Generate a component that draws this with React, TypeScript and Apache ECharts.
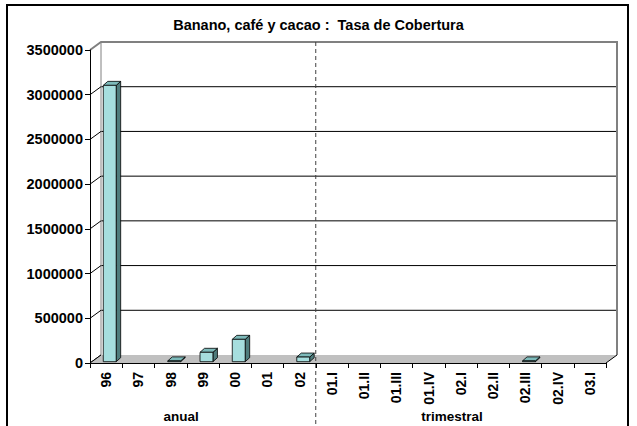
import React, { useEffect, useRef } from "react";
import * as echarts from "echarts";

const TITLE = "Banano, café y cacao :  Tasa de Cobertura";
const CATEGORIES = ["96", "97", "98", "99", "00", "01", "02", "01.I", "01.II", "01.III", "01.IV", "02.I", "02.II", "02.III", "02.IV", "03.I"];
const VALUES: (number | null)[] = [3090000, null, 9000, 105000, 250000, null, 52000, null, null, null, null, null, null, 9000, null, null];
const Y_TICKS = [0, 500000, 1000000, 1500000, 2000000, 2500000, 3000000, 3500000];
const GROUP_LABELS = ["anual", "trimestral"];
const SEPARATOR_AFTER = "02";

const FONT = "'Liberation Sans', Arial, sans-serif";
const DEPTH_X = 11;
const DEPTH_Y = -8;
const FRONT_DX = 3.6;
const FRONT_DY = -1.3;
const BAR_DX = 4.5;
const BAR_DY = -4;

export default function App() {
  const ref = useRef<HTMLDivElement>(null);
  useEffect(() => {
    if (!ref.current) return;
    const chart = echarts.init(ref.current, undefined, { renderer: "svg" });
    const yMin = Y_TICKS[0];
    const yMax = Y_TICKS[Y_TICKS.length - 1];
    const yStep = Y_TICKS[1] - Y_TICKS[0];
    const sepIndex = CATEGORIES.indexOf(SEPARATOR_AFTER);

    const option: any = {
      animation: false,
      backgroundColor: "#ffffff",
      title: {
        text: TITLE,
        left: "center",
        top: 12,
        textStyle: { fontFamily: FONT, fontSize: 14.5, fontWeight: "bold", color: "#000" },
      },
      grid: { left: 90, top: 50, width: 516, height: 313 },
      xAxis: {
        type: "category",
        data: CATEGORIES,
        boundaryGap: true,
        z: 5,
        axisLine: { show: true, lineStyle: { color: "#000", width: 1 } },
        axisTick: { show: true, interval: 0, length: 5, lineStyle: { color: "#000" } },
        axisLabel: {
          interval: 0,
          rotate: 90,
          margin: 9,
          fontFamily: FONT,
          fontSize: 14,
          fontWeight: "bold",
          color: "#000",
        },
        splitLine: { show: false },
      },
      yAxis: {
        type: "value",
        min: yMin,
        max: yMax,
        interval: yStep,
        z: 5,
        axisLine: { show: true, lineStyle: { color: "#000", width: 1 } },
        axisTick: { show: true, length: 5, lineStyle: { color: "#000" } },
        axisLabel: {
          margin: 7,
          fontFamily: FONT,
          fontSize: 14.5,
          fontWeight: "bold",
          color: "#000",
          formatter: (v: number) => String(v),
        },
        splitLine: { show: false },
      },
      graphic: [
        {
          type: "rect",
          shape: { x: 7, y: 5, width: 621, height: 440 },
          style: { fill: "none", stroke: "#000", lineWidth: 2 },
          z: 100,
        },
        {
          type: "text",
          x: 181,
          y: 416,
          style: {
            text: GROUP_LABELS[0],
            font: `bold 13.5px ${FONT}`,
            fill: "#000",
            textAlign: "center",
            textVerticalAlign: "middle",
          },
        },
        {
          type: "text",
          x: 452,
          y: 416,
          style: {
            text: GROUP_LABELS[1],
            font: `bold 13.5px ${FONT}`,
            fill: "#000",
            textAlign: "center",
            textVerticalAlign: "middle",
          },
        },
      ],
      series: [
        {
          type: "custom",
          z: 1,
          silent: true,
          data: [[0, 0]],
          renderItem: (params: any, api: any) => {
            const cs = params.coordSys;
            const x0 = cs.x;
            const x1 = cs.x + cs.width;
            const yb = api.coord([0, yMin])[1];
            const yt = api.coord([0, yMax])[1];
            const band = api.size([1, 0])[0];
            const children: any[] = [];
            Y_TICKS.forEach((t) => {
              if (t === yMin || t === yMax) return;
              const y = api.coord([0, t])[1];
              children.push({
                type: "line",
                shape: { x1: x0 + DEPTH_X, y1: y + DEPTH_Y, x2: x1 + DEPTH_X, y2: y + DEPTH_Y },
                style: { stroke: "#000", lineWidth: 1 },
              });
            });
            children.push({
              type: "polyline",
              shape: {
                points: [
                  [x0, yt],
                  [x0 + DEPTH_X, yt + DEPTH_Y],
                  [x1 + DEPTH_X, yt + DEPTH_Y],
                  [x1 + DEPTH_X, yb + DEPTH_Y],
                ],
              },
              style: { stroke: "#808080", lineWidth: 2, fill: "none" },
            });
            children.push({
              type: "line",
              shape: { x1: x0 + DEPTH_X, y1: yt + DEPTH_Y, x2: x0 + DEPTH_X, y2: yb + DEPTH_Y },
              style: { stroke: "#808080", lineWidth: 1 },
            });
            Y_TICKS.forEach((t) => {
              if (t === yMax) return;
              const y = api.coord([0, t])[1];
              children.push({
                type: "line",
                shape: { x1: x0, y1: y, x2: x0 + DEPTH_X, y2: y + DEPTH_Y },
                style: { stroke: "#000", lineWidth: 1 },
              });
            });
            children.push({
              type: "polygon",
              shape: {
                points: [
                  [x0, yb],
                  [x1, yb],
                  [x1 + DEPTH_X, yb + DEPTH_Y],
                  [x0 + DEPTH_X, yb + DEPTH_Y],
                ],
              },
              style: { fill: "#c0c0c0", stroke: "none" },
            });
            children.push({
              type: "line",
              shape: { x1: x1, y1: yb, x2: x1 + DEPTH_X, y2: yb + DEPTH_Y },
              style: { stroke: "#000", lineWidth: 1 },
            });
            children.push({
              type: "line",
              shape: { x1: x0, y1: yb, x2: x0 + DEPTH_X, y2: yb + DEPTH_Y },
              style: { stroke: "#000", lineWidth: 1 },
            });
            const sx = api.coord([sepIndex, 0])[0] + band / 2;
            children.push({
              type: "line",
              shape: { x1: sx, y1: yt + DEPTH_Y, x2: sx, y2: 440 },
              style: { stroke: "#404040", lineWidth: 1, lineDash: [4, 3] },
            });
            return { type: "group", children };
          },
        },
        {
          type: "custom",
          z: 3,
          silent: true,
          data: VALUES.map((v, i) => [i, v]),
          renderItem: (params: any, api: any) => {
            const v = api.value(1);
            if (v == null || isNaN(v)) return null;
            const idx = api.value(0);
            const base = api.coord([idx, 0]);
            const top = api.coord([idx, v]);
            const band = api.size([1, 0])[0];
            const w = band * 0.4;
            const x0 = base[0] - w / 2 + FRONT_DX;
            const x1 = x0 + w;
            const yb = base[1] + FRONT_DY;
            const yt = top[1] + FRONT_DY;
            const edge = { stroke: "#000", lineWidth: 0.8 };
            return {
              type: "group",
              children: [
                {
                  type: "polygon",
                  shape: { points: [[x1, yb], [x1 + BAR_DX, yb + BAR_DY], [x1 + BAR_DX, yt + BAR_DY], [x1, yt]] },
                  style: { fill: "#4f7c7c", ...edge },
                },
                {
                  type: "polygon",
                  shape: { points: [[x0, yt], [x1, yt], [x1 + BAR_DX, yt + BAR_DY], [x0 + BAR_DX, yt + BAR_DY]] },
                  style: { fill: "#7dbaba", ...edge },
                },
                {
                  type: "rect",
                  shape: { x: x0, y: yt, width: w, height: Math.max(yb - yt, 0.1) },
                  style: { fill: "#a6dede", ...edge },
                },
              ],
            };
          },
        },
      ],
    };
    chart.setOption(option);
    return () => chart.dispose();
  }, []);
  return (
    <div
      ref={ref}
      style={{ position: "absolute", left: 0, top: 0, width: 637, height: 426, background: "#fff" }}
    />
  );
}
